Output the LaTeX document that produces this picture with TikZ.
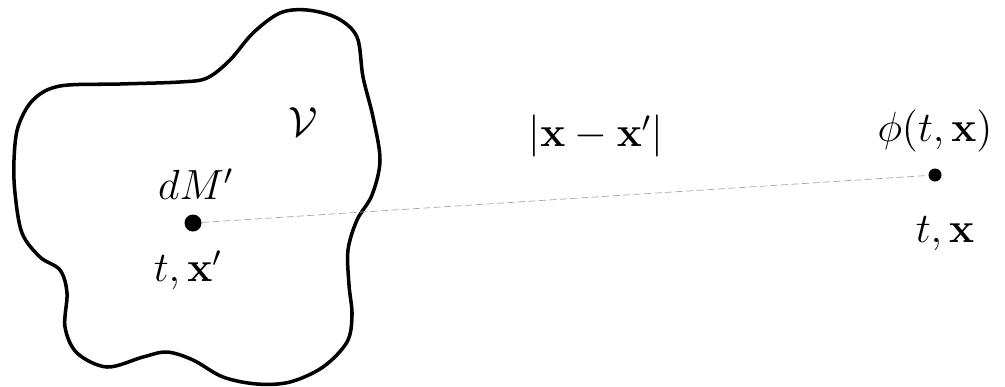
\documentclass[tikz,border=0pt]{standalone}
\usepackage{amsmath, amssymb}
\usetikzlibrary{positioning}
\tikzset{
  dotnode/.style={circle, fill=black, inner sep=0pt, minimum size=0.17cm},
  smalldot/.style={circle, fill=black, inner sep=0pt, minimum size=0.13cm},
  sepline/.style={gray!70, very thin, dash pattern=on 2pt off 1pt},
  regionline/.style={line width=1pt, line join=round},
  mathlabel/.style={font=\large, inner sep=1pt}
}
\begin{document}
\begin{tikzpicture}
  \useasboundingbox (0,0) rectangle (10.05,3.86);
  % source region
  \draw[regionline] plot[smooth cycle, tension=0.55] coordinates {
    (0.60,3.00) (1.20,3.02) (1.80,3.04) (2.07,3.08) (2.30,3.26) (2.53,3.53)
    (2.80,3.73) (3.07,3.76) (3.37,3.68) (3.57,3.49) (3.63,3.09) (3.73,2.69)
    (3.80,2.26) (3.72,1.91) (3.57,1.66) (3.48,1.36) (3.49,1.01) (3.52,0.71)
    (3.47,0.44) (3.23,0.19) (2.90,0.04) (2.57,0.02) (2.23,0.09) (1.93,0.26)
    (1.67,0.34) (1.43,0.29) (1.07,0.19) (0.77,0.33) (0.65,0.59) (0.67,0.93)
    (0.60,1.16) (0.40,1.29) (0.22,1.53) (0.15,1.93) (0.14,2.26) (0.18,2.59)
    (0.33,2.86)};
  \node[mathlabel] (vol) at (3.03,2.64) {$\mathcal{V}$};
  % mass element and field point
  \node[dotnode] (src) at (1.93,1.63) {};
  \node[smalldot] (fld) at (9.35,2.11) {};
  \draw[sepline] (src) -- (fld);
  \node[mathlabel, above=0.1cm of src, xshift=0.03cm] (mass) {$dM'$};
  \node[mathlabel, below=0.14cm of src, xshift=-0.05cm] (srcpos) {$t,\mathbf{x}'$};
  \node[mathlabel, above=0.12cm of fld] (pot) {$\phi(t,\mathbf{x})$};
  \node[mathlabel, below=0.3cm of fld, xshift=0.1cm] (fldpos) {$t,\mathbf{x}$};
  \node[mathlabel] (dist) at (5.96,2.50) {$|\mathbf{x}-\mathbf{x}'|$};
\end{tikzpicture}
\end{document}
